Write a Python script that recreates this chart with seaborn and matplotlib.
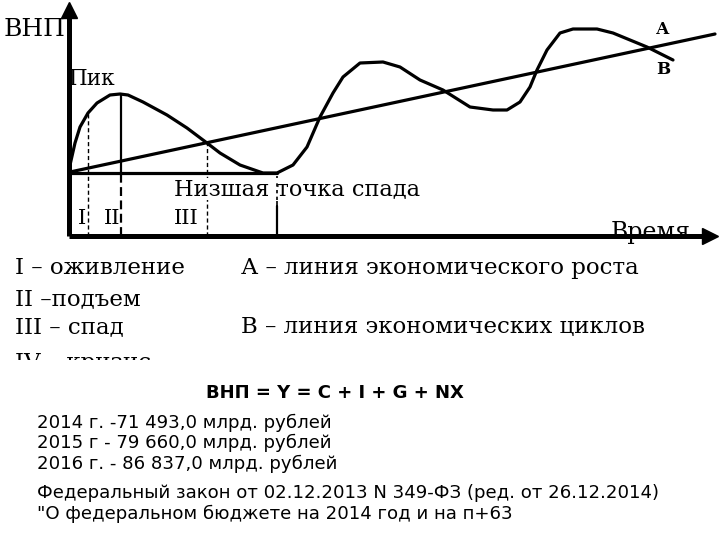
import matplotlib
matplotlib.use("Agg")
import matplotlib.pyplot as plt
import seaborn as sns
from matplotlib.patches import Rectangle

# ---- data (time units along axis, GNP units above axis) ----
time_B = [1, 6, 11, 19, 28, 41, 51, 59, 74, 98, 118, 138, 151, 171, 194, 208, 224, 238, 251, 264,
          274, 291, 314, 331, 351, 374, 401, 424, 438, 451, 461, 468, 478, 491, 504, 528, 544, 578, 604]
gnp_B = [71, 93, 109, 123, 133, 141, 142, 141, 134, 121, 108, 93, 83, 71, 63, 63, 71, 89, 119, 143,
         159, 173, 174, 169, 156, 146, 129, 126, 126, 134, 149, 166, 186, 203, 207, 207, 203, 189, 176]
time_A = [1, 646]
gnp_A = [64, 202]
trough_level = 63
t_I, t_peak, t_III, t_trough = 19, 52, 138, 208
g_I, g_peak, g_III = 123, 142, 93

phase_labels = ["I", "II", "III"]
legend_left = ["I – оживление", "II –подъем", "III – спад", "IV – кризис"]
legend_right = ["А – линия экономического роста", "В – линия экономических циклов"]
formula = "ВНП = Y = C + I + G + NX"
gnp_lines = ["2014 г. -71 493,0 млрд. рублей",
             "2015 г - 79 660,0 млрд. рублей",
             "2016 г. - 86 837,0 млрд. рублей"]
law_lines = ["Федеральный закон от 02.12.2013 N 349-ФЗ (ред. от 26.12.2014)",
             "\"О федеральном бюджете на 2014 год и на п+63"]

sns.set_theme(style="white")
plt.rcParams['font.family'] = ['DejaVu Serif']
plt.rcParams['text.color'] = 'black'

fig = plt.figure(figsize=(7.2, 5.4), dpi=100)
ax = fig.add_axes([0, 0, 1, 1])
ax.set_xlim(-69, 651)
ax.set_ylim(-304, 236)
ax.axis('off')


def P(px, py):
    return px - 69, 236 - py


K = 'black'
# axes with arrows
ax.plot([0, 0], [0, 224], color=K, lw=3.6, solid_capstyle='butt', zorder=5)
ax.plot([0], [226], marker='^', ms=11, color=K, zorder=5)
ax.plot([0, 636], [0, 0], color=K, lw=3.6, solid_capstyle='butt', zorder=5)
ax.plot([641], [0], marker='>', ms=11, color=K, zorder=5)

# curves
sns.lineplot(x=time_B, y=gnp_B, ax=ax, color=K, lw=2.3, estimator=None, sort=False)
sns.lineplot(x=time_A, y=gnp_A, ax=ax, color=K, lw=2.3, estimator=None, sort=False)
ax.plot([1, t_trough], [trough_level, trough_level], color=K, lw=2.3)

# vertical lines
ax.plot([t_I, t_I], [0, g_I], color=K, lw=1.0, ls=(0, (3, 2)))
ax.plot([t_peak, t_peak], [trough_level, g_peak], color=K, lw=1.6)
ax.plot([t_peak, t_peak], [0, trough_level], color=K, lw=1.6, ls=(0, (4, 2)))
ax.plot([t_III, t_III], [0, g_III], color=K, lw=1.0, ls=(0, (3, 2)))
ax.plot([t_trough, t_trough], [30, trough_level], color=K, lw=1.2, ls=(0, (3, 2)))
ax.plot([t_trough, t_trough], [0, 30], color=K, lw=1.6)

serif = ['DejaVu Serif']
ax.text(*P(4, 30), "ВНП", fontsize=18, family=serif, va='center', ha='left')
ax.text(*P(69, 79), "Пик", fontsize=15.5, family=serif, va='center', ha='left')
ax.text(*P(174, 189), "Низшая точка спада", fontsize=16.2, family=serif, va='center', ha='left',
        bbox=dict(facecolor='white', edgecolor='none', pad=0))
ax.plot([t_trough, t_trough], [36, 56], color=K, lw=1.2, ls=(0, (2, 2)), zorder=4)
for lab, px in zip(phase_labels, [82, 112, 186]):
    ax.text(*P(px, 218), lab, fontsize=15, family=serif, va='center', ha='center')
ax.text(*P(663, 30), "А", fontsize=12, family=serif, weight='bold', va='center', ha='center')
ax.text(*P(663, 70), "В", fontsize=12, family=serif, weight='bold', va='center', ha='center')
ax.text(*P(611, 232), "Время", fontsize=17, family=serif, va='center', ha='left', zorder=3)

# legend block
for i, s in enumerate(legend_left):
    py = [268, 299, 327, 363][i]
    ax.text(*P(15, py), s, fontsize=16.5, family=serif, va='center', ha='left')
for s, py in zip(legend_right, [268, 327]):
    ax.text(*P(241, py), s, fontsize=16.5, family=serif, va='center', ha='left')
# crop of the legend image
ax.add_patch(Rectangle(P(0, 385), 720, 25, facecolor='white', edgecolor='none', zorder=10))

sans = ['DejaVu Sans']
ax.text(*P(335, 393), formula, fontsize=13, weight='bold', family=sans, va='center', ha='center', zorder=11)
for s, py in zip(gnp_lines, [423, 443, 464]):
    ax.text(*P(37, py), s, fontsize=13.1, family=sans, va='center', ha='left', zorder=11)
for s, py in zip(law_lines, [493, 514]):
    ax.text(*P(37, py), s, fontsize=13.1, family=sans, va='center', ha='left', zorder=11)

fig.savefig("out.png", dpi=100)
